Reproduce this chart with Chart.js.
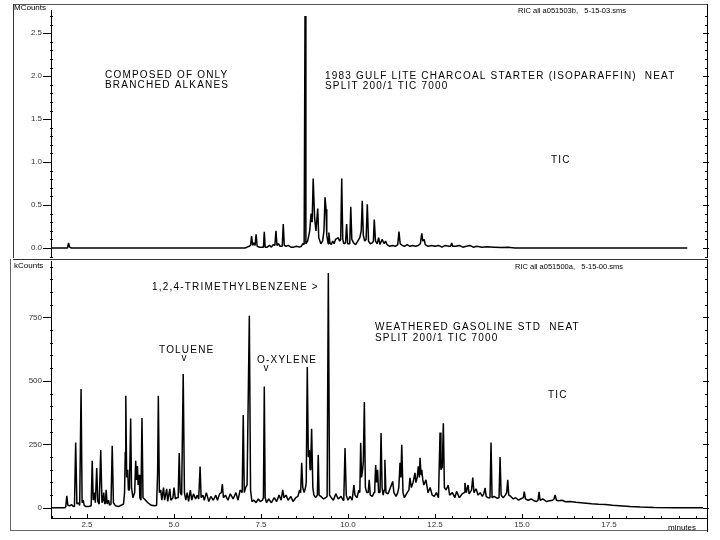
<!DOCTYPE html>
<html>
<head>
<meta charset="utf-8">
<script src="https://cdn.jsdelivr.net/npm/chart.js@4.4.1/dist/chart.umd.min.js"></script>
<style>
  html, body { margin: 0; padding: 0; background: #fff; }
  body { width: 720px; height: 540px; position: relative; overflow: hidden; }
  canvas { position: absolute; left: 0; }
  #topChart { top: 0; }
  #bottomChart { top: 258px; }
</style>
</head>
<body>
<canvas id="topChart" width="720" height="258"></canvas>
<canvas id="bottomChart" width="720" height="282"></canvas>
<script>
// retention time axis (minutes), same for both runs
const xMin = 1.466;
const xMax = 20.316;
const xMajorTicks = [2.5, 5.0, 7.5, 10.0, 12.5, 15.0, 17.5];

// upper run (MCounts)
const topYTicks = [0.0, 0.5, 1.0, 1.5, 2.0, 2.5];
const topTime = [
  1.45, 1.94, 1.97, 2.00, 2.05, 7.04, 7.10, 7.16, 7.20, 7.23, 7.26, 7.29, 7.33, 7.36, 7.39, 7.45,
  7.52, 7.57, 7.595, 7.62, 7.68, 7.74, 7.80, 7.85, 7.90, 7.93, 7.96, 8.00, 8.05, 8.11, 8.14, 8.17,
  8.22, 8.28, 8.36, 8.44, 8.52, 8.60, 8.66, 8.70, 8.74, 8.765, 8.79, 8.84, 8.90, 8.94, 8.97, 9.00,
  9.04, 9.08, 9.13, 9.16, 9.22, 9.27, 9.31, 9.34, 9.37, 9.39, 9.43, 9.45, 9.48, 9.52, 9.56, 9.60,
  9.64, 9.68, 9.72, 9.76, 9.79, 9.82, 9.85, 9.88, 9.93, 9.96, 9.99, 10.05, 10.08, 10.11, 10.16, 10.22,
  10.28, 10.34, 10.38, 10.41, 10.44, 10.48, 10.52, 10.555, 10.59, 10.64, 10.70, 10.73, 10.755, 10.79, 10.84, 10.88,
  10.92, 10.98, 11.04, 11.08, 11.12, 11.20, 11.28, 11.36, 11.43, 11.465, 11.50, 11.56, 11.62, 11.70, 11.78, 11.86,
  11.94, 12.02, 12.08, 12.12, 12.15, 12.19, 12.22, 12.30, 12.40, 12.50, 12.60, 12.70, 12.80, 12.90, 12.95, 12.98,
  13.01, 13.10, 13.20, 13.30, 13.40, 13.50, 13.60, 13.70, 13.85, 14.00, 14.20, 14.40, 14.60, 14.80, 15.50, 19.75
];
const topMCounts = [
  0, 0, 0.06, 0.01, 0, 0, 0.01, 0.02, 0.03, 0.14, 0.03, 0.06, 0.03, 0.16, 0.02, 0.01,
  0.01, 0.01, 0.19, 0.01, 0.01, 0.03, 0.01, 0.04, 0.03, 0.20, 0.03, 0.05, 0.02, 0.02, 0.28, 0.03,
  0.02, 0.03, 0.01, 0.01, 0.02, 0.01, 0.02, 0.05, 0.04, 2.70, 0.05, 0.08, 0.20, 0.40, 0.30, 0.81,
  0.35, 0.20, 0.46, 0.12, 0.05, 0.08, 0.20, 0.59, 0.45, 0.15, 0.05, 0.18, 0.06, 0.04, 0.08, 0.05,
  0.10, 0.11, 0.12, 0.08, 0.10, 0.81, 0.10, 0.05, 0.06, 0.28, 0.05, 0.05, 0.48, 0.10, 0.06, 0.04,
  0.08, 0.12, 0.20, 0.55, 0.15, 0.08, 0.10, 0.51, 0.08, 0.05, 0.06, 0.08, 0.33, 0.08, 0.05, 0.12,
  0.04, 0.10, 0.05, 0.08, 0.04, 0.02, 0.03, 0.02, 0.04, 0.19, 0.05, 0.03, 0.02, 0.04, 0.02, 0.03,
  0.02, 0.03, 0.05, 0.17, 0.08, 0.10, 0.04, 0.02, 0.03, 0.02, 0.03, 0.01, 0.03, 0.02, 0.02, 0.06,
  0.02, 0.02, 0.03, 0.01, 0.02, 0.03, 0.01, 0.02, 0.01, 0.015, 0.01, 0.005, 0.01, 0, 0, 0
];

// lower run (kCounts)
const bottomYTicks = [0, 250, 500, 750];
const bottomTime = [
  1.44, 1.86, 1.89, 1.92, 1.95, 2.00, 2.06, 2.10, 2.14, 2.175, 2.21, 2.25, 2.29, 2.33, 2.36, 2.39, 2.42, 2.47, 2.55,
  2.62, 2.65, 2.68, 2.71, 2.74, 2.78, 2.81, 2.85, 2.895, 2.93, 2.96, 2.98, 3.01, 3.03, 3.05, 3.08, 3.12, 3.15, 3.19, 3.225, 3.26, 3.32, 3.40, 3.48,
  3.55, 3.58, 3.60, 3.615, 3.64, 3.67, 3.69, 3.72, 3.755, 3.78, 3.82, 3.87, 3.90, 3.92, 3.95, 3.97, 4.00, 4.02, 4.05, 4.08, 4.11, 4.15, 4.25, 4.35, 4.45,
  4.50, 4.53, 4.55, 4.58, 4.62, 4.65, 4.70, 4.73, 4.79, 4.82, 4.88, 4.91, 4.97, 5.00, 5.04, 5.08, 5.12, 5.15, 5.18, 5.22, 5.265, 5.30,
  5.34, 5.38, 5.42, 5.47, 5.51, 5.56, 5.62, 5.67, 5.71, 5.75, 5.78, 5.83, 5.87, 5.93, 6.00, 6.06, 6.13, 6.20, 6.25, 6.31,
  6.36, 6.39, 6.42, 6.48, 6.55, 6.62, 6.70, 6.78, 6.84, 6.90, 6.96, 6.99, 7.02, 7.06, 7.10, 7.165, 7.20, 7.24,
  7.30, 7.36, 7.42, 7.48, 7.54, 7.57, 7.595, 7.62, 7.66, 7.72, 7.80, 7.88, 7.95, 8.02, 8.08, 8.125, 8.16, 8.22, 8.28, 8.36, 8.42, 8.50, 8.56, 8.61,
  8.64, 8.67, 8.70, 8.74, 8.78, 8.80, 8.83, 8.86, 8.89, 8.91, 8.93, 8.955, 8.99, 9.02, 9.07, 9.12, 9.145, 9.17, 9.22, 9.30, 9.36, 9.40, 9.435, 9.47,
  9.52, 9.58, 9.65, 9.72, 9.80, 9.86, 9.88, 9.915, 9.95, 10.00, 10.06, 10.12, 10.17, 10.20, 10.26, 10.31, 10.34, 10.365, 10.39, 10.42, 10.44, 10.47, 10.50, 10.54,
  10.58, 10.61, 10.64, 10.70, 10.75, 10.77, 10.795, 10.82, 10.85, 10.88, 10.92, 10.95, 10.98, 11.01, 11.04, 11.06, 11.09, 11.15, 11.22, 11.285, 11.32, 11.38, 11.43, 11.46,
  11.495, 11.52, 11.545, 11.58, 11.62, 11.70, 11.75, 11.78, 11.82, 11.87, 11.925, 11.95, 11.99, 12.02, 12.05, 12.07, 12.10, 12.12, 12.15, 12.18, 12.24, 12.30, 12.36, 12.42,
  12.48, 12.54, 12.60, 12.645, 12.67, 12.71, 12.74, 12.77, 12.82, 12.88, 12.92, 13.00, 13.07, 13.12, 13.20, 13.28,
  13.34, 13.36, 13.40, 13.45, 13.48, 13.55, 13.585, 13.62, 13.68, 13.74, 13.80, 13.86, 13.90, 13.94, 13.97, 14.02,
  14.08, 14.11, 14.14, 14.20, 14.28, 14.34, 14.37, 14.40, 14.46, 14.52, 14.56, 14.59, 14.62, 14.68, 14.75, 14.82, 14.90, 14.96,
  15.04, 15.065, 15.10, 15.18, 15.26, 15.34, 15.42, 15.46, 15.49, 15.52, 15.60, 15.70, 15.80, 15.88, 15.92, 15.95, 15.99,
  16.05, 16.15, 16.25, 16.38, 16.55, 16.70, 16.85, 17.00, 17.20, 17.40, 17.60, 17.80, 18.10, 18.40, 18.80, 19.40, 20.20
];
const bottomKCounts = [
  0, 0, 4, 47, 10, 8, 12, 6, 5, 257, 15, 20, 10, 468, 20, 30, 10, 5, 5,
  8, 185, 30, 60, 20, 157, 25, 15, 228, 20, 30, 60, 15, 20, 71, 15, 30, 10, 15, 244, 20, 8, 5, 10,
  15, 60, 220, 441, 120, 150, 70, 70, 352, 80, 40, 60, 185, 110, 165, 90, 130, 40, 30, 354, 40, 35, 20, 10, 8,
  10, 140, 441, 60, 70, 30, 80, 30, 75, 25, 75, 30, 40, 80, 35, 40, 40, 216, 60, 50, 527, 60,
  30, 60, 25, 70, 30, 55, 35, 50, 35, 163, 40, 50, 30, 60, 25, 45, 30, 50, 30, 55,
  60, 94, 40, 50, 30, 55, 35, 60, 30, 70, 60, 366, 60, 80, 90, 756, 70, 25,
  30, 20, 35, 25, 30, 40, 478, 40, 20, 35, 20, 40, 25, 50, 30, 71, 40, 50, 30, 45, 25, 40, 45, 70,
  60, 177, 80, 60, 80, 100, 555, 200, 228, 150, 180, 311, 80, 50, 40, 50, 209, 50, 45, 35, 40, 45, 925, 50,
  40, 30, 55, 35, 45, 30, 40, 236, 50, 30, 45, 30, 90, 50, 40, 70, 60, 256, 120, 150, 180, 417, 80, 60,
  60, 110, 50, 45, 60, 80, 169, 100, 150, 60, 60, 295, 80, 50, 70, 189, 60, 55, 80, 104, 60, 45, 60, 80,
  177, 120, 248, 60, 40, 60, 70, 118, 80, 100, 138, 100, 120, 163, 120, 197, 130, 150, 110, 90, 110, 60, 80, 50,
  45, 60, 40, 297, 150, 160, 333, 80, 70, 90, 50, 60, 40, 65, 40, 55,
  60, 98, 60, 90, 55, 70, 119, 60, 75, 50, 60, 45, 55, 78, 45, 40,
  40, 257, 40, 45, 38, 40, 200, 50, 40, 50, 60, 110, 50, 45, 35, 40, 30, 35,
  40, 64, 35, 30, 35, 28, 25, 30, 63, 30, 35, 25, 28, 30, 35, 51, 30,
  28, 30, 24, 25, 22, 20, 18, 16, 14, 13, 10, 8, 5, 3, 1, 0, 0
];

if (topTime.length !== topMCounts.length) console.warn("top arrays differ", topTime.length, topMCounts.length);
if (bottomTime.length !== bottomKCounts.length) console.warn("bottom arrays differ", bottomTime.length, bottomKCounts.length);

Chart.defaults.font.family = "'Liberation Sans', Arial, sans-serif";
Chart.defaults.color = "#222";

function toPoints(times, values) {
  return times.map((t, i) => ({ x: t, y: values[i] }));
}

// small tick marks between the labelled ones
function minorTicks(from, to, step, majors) {
  const out = [];
  for (let v = from; v <= to + 1e-9; v += step) {
    const r = Math.round(v * 1000) / 1000;
    if (!majors.some(m => Math.abs(m - r) < 1e-6)) out.push(r);
  }
  return out;
}

// keep the label overhang from shrinking the plot area
function noOverhang(s) {
  s.paddingTop = 0;
  s.paddingBottom = 0;
  s.paddingLeft = 0;
  s.paddingRight = 0;
}

// tick marks, frame lines and the printed notes
const decor = {
  id: "decor",
  afterDraw(chart, args, opts) {
    const ctx = chart.ctx;
    const { left, right, bottom } = chart.chartArea;
    const y = chart.scales.y;
    const snap = p => Math.round(p) + 0.5;
    ctx.save();
    ctx.strokeStyle = "#000";
    ctx.lineWidth = 1;
    ctx.beginPath();
    opts.yMajor.forEach(v => {
      const py = snap(y.getPixelForValue(v));
      ctx.moveTo(left - 8, py); ctx.lineTo(left, py);
      ctx.moveTo(right - 4, py); ctx.lineTo(right + 2, py);
    });
    opts.yMinor.forEach(v => {
      const py = snap(y.getPixelForValue(v));
      ctx.moveTo(left - 1, py); ctx.lineTo(left + 2, py);
      ctx.moveTo(right - 2, py); ctx.lineTo(right + 1, py);
    });
    if (opts.xMinor) {
      const x = chart.scales.x;
      xMajorTicks.forEach(v => {
        const px = snap(x.getPixelForValue(v));
        ctx.moveTo(px, bottom - 4); ctx.lineTo(px, bottom + 1);
      });
      opts.xMinor.forEach(v => {
        const px = snap(x.getPixelForValue(v));
        ctx.moveTo(px, bottom - 2); ctx.lineTo(px, bottom);
      });
    }
    ctx.stroke();

    (opts.lines || []).forEach(l => {
      ctx.strokeStyle = l.color || "#000";
      ctx.beginPath();
      ctx.moveTo(l.x1, l.y1);
      ctx.lineTo(l.x2, l.y2);
      ctx.stroke();
    });

    ctx.fillStyle = "#000";
    ctx.textBaseline = "middle";
    (opts.texts || []).forEach(t => {
      ctx.font = (t.size || 10) + "px 'Liberation Sans', Arial, sans-serif";
      ctx.letterSpacing = (t.spacing === undefined ? 1.2 : t.spacing) + "px";
      ctx.textAlign = t.align || "left";
      ctx.fillText(t.text, t.x, t.y);
    });
    ctx.restore();
  }
};

function baseOptions(yMin, yMax, yTicks, fmt) {
  return {
    responsive: false,
    animation: false,
    events: [],
    plugins: { legend: { display: false }, tooltip: { enabled: false } },
    scales: {
      x: { type: "linear", min: xMin, max: xMax },
      y: {
        min: yMin,
        max: yMax,
        afterFit: s => { s.width = 51; noOverhang(s); },
        afterBuildTicks: s => { s.ticks = yTicks.map(v => ({ value: v })); },
        ticks: { callback: fmt, padding: 9, font: { size: 8 }, color: "#333" },
        grid: { drawOnChartArea: false, drawTicks: false },
        border: { color: "#000", width: 1 }
      },
      y2: {
        position: "right",
        min: yMin,
        max: yMax,
        afterFit: s => { s.width = 13; noOverhang(s); },
        ticks: { display: false },
        grid: { display: false, drawTicks: false },
        border: { color: "#000", width: 1 }
      }
    }
  };
}

const traceStyle = {
  borderColor: "#000",
  borderWidth: 1.5,
  borderJoinStyle: "bevel",
  pointRadius: 0,
  tension: 0,
  fill: false
};

// upper chromatogram
const topOptions = baseOptions(-0.1, 2.77, topYTicks, v => v.toFixed(1));
topOptions.layout = { padding: { top: 10, bottom: 1.4, left: 0, right: 0 } };
topOptions.scales.x.display = false;
topOptions.plugins.decor = {
  yMajor: topYTicks,
  yMinor: minorTicks(-0.1, 2.7, 0.1, topYTicks),
  lines: [
    { x1: 13, y1: 4.5, x2: 707, y2: 4.5, color: "#555" },
    { x1: 13.5, y1: 4, x2: 13.5, y2: 258, color: "#333" },
    { x1: 707.5, y1: 4, x2: 707.5, y2: 258, color: "#000" },
    { x1: 51.5, y1: 256, x2: 51.5, y2: 258, color: "#000" }
  ],
  texts: [
    { text: "MCounts", x: 14, y: 8, size: 8, spacing: 0 },
    { text: "RIC all a051503b,   5-15-03.sms", x: 518, y: 11, size: 7.5, spacing: 0 },
    { text: "COMPOSED OF ONLY", x: 105, y: 75 },
    { text: "BRANCHED ALKANES", x: 105, y: 85 },
    { text: "1983 GULF LITE CHARCOAL STARTER (ISOPARAFFIN)  NEAT", x: 325, y: 76 },
    { text: "SPLIT 200/1 TIC 7000", x: 325, y: 86 },
    { text: "TIC", x: 551, y: 160 }
  ]
};

new Chart(document.getElementById("topChart"), {
  type: "line",
  data: { datasets: [Object.assign({ data: toPoints(topTime, topMCounts) }, traceStyle)] },
  options: topOptions,
  plugins: [decor]
});

// lower chromatogram
const bottomOptions = baseOptions(-40, 970, bottomYTicks, v => String(v));
bottomOptions.layout = { padding: { top: 3.5, bottom: 0, left: 0, right: 0 } };
bottomOptions.scales.x = {
  type: "linear",
  min: xMin,
  max: xMax,
  afterFit: s => { s.height = 22; noOverhang(s); },
  afterBuildTicks: s => { s.ticks = xMajorTicks.map(v => ({ value: v })); },
  ticks: { callback: v => v.toFixed(1), autoSkip: false, maxRotation: 0, padding: 2, font: { size: 8 }, color: "#333" },
  grid: { drawOnChartArea: false, drawTicks: false },
  border: { color: "#000", width: 1 }
};
bottomOptions.plugins.decor = {
  yMajor: bottomYTicks,
  yMinor: minorTicks(-0, 950, 50, bottomYTicks),
  xMinor: minorTicks(1.5, 20.0, 0.5, xMajorTicks),
  lines: [
    { x1: 13, y1: 1.5, x2: 707, y2: 1.5, color: "#333" },
    { x1: 10.5, y1: 1, x2: 10.5, y2: 273, color: "#666" },
    { x1: 10, y1: 272.5, x2: 708, y2: 272.5, color: "#666" },
    { x1: 707.5, y1: 1, x2: 707.5, y2: 274, color: "#000" }
  ],
  texts: [
    { text: "kCounts", x: 14, y: 8, size: 8, spacing: 0 },
    { text: "RIC all a051500a,   5-15-00.sms", x: 515, y: 9, size: 7.5, spacing: 0 },
    { text: "1,2,4-TRIMETHYLBENZENE >", x: 152, y: 29 },
    { text: "TOLUENE", x: 159, y: 92 },
    { text: "v", x: 184, y: 100, align: "center", spacing: 0 },
    { text: "O-XYLENE", x: 257, y: 102 },
    { text: "v", x: 266, y: 110, align: "center", spacing: 0 },
    { text: "WEATHERED GASOLINE STD  NEAT", x: 375, y: 69 },
    { text: "SPLIT 200/1 TIC 7000", x: 375, y: 80 },
    { text: "TIC", x: 548, y: 137 },
    { text: "minutes", x: 668, y: 270, size: 8, spacing: 0 }
  ]
};

new Chart(document.getElementById("bottomChart"), {
  type: "line",
  data: { datasets: [Object.assign({ data: toPoints(bottomTime, bottomKCounts) }, traceStyle)] },
  options: bottomOptions,
  plugins: [decor]
});
</script>
</body>
</html>
